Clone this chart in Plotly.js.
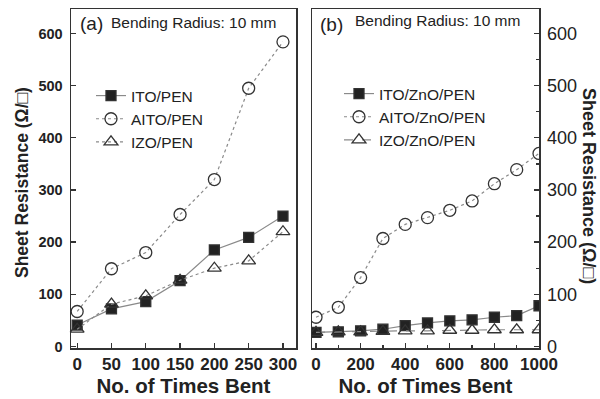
<!DOCTYPE html>
<html><head><meta charset="utf-8">
<script src="https://cdn.plot.ly/plotly-3.0.1.min.js"></script>
<style>body{margin:0;background:#fff}#chart{width:600px;height:399px}</style>
</head><body><div id="chart"></div>
<script>
const xA = [0, 50, 100, 150, 200, 250, 300];
const itoPEN = [41, 72, 86, 126, 185, 209, 250];
const aitoPEN = [67, 149, 180, 253, 320, 495, 584];
const izoPEN = [33, 81, 97, 127, 150, 164, 220];

const xB = [0, 100, 200, 300, 400, 500, 600, 700, 800, 900, 1000];
const itoZnO = [27, 28, 30, 33, 40, 45, 49, 51, 56, 59, 78];
const aitoZnO = [56, 75, 132, 207, 234, 247, 261, 279, 312, 339, 370];
const izoZnO = [27, 28, 28, 29, 30, 30, 31, 31, 32, 32, 32];

const F = "Liberation Sans, Arial, sans-serif";
const lineCol = "#8a8a8a";
const mk = "#333";

function tr(x, y, name, sym, dash, xa, ya, leg) {
  const filled = sym === "square";
  return {
    x: x, y: y, name: name, type: "scatter", mode: "lines+markers",
    xaxis: xa, yaxis: ya, legend: leg, cliponaxis: false,
    line: {color: lineCol, width: 1.2, dash: dash},
    marker: {symbol: filled ? "square" : sym + "-open", size: filled ? 10 : 12,
      color: filled ? "#222" : mk, line: {color: mk, width: 1.3}}
  };
}

const data = [
  tr(xA, itoPEN, "ITO/PEN", "square", "solid", "x", "y", "legend"),
  tr(xA, aitoPEN, "AITO/PEN", "circle", "dot", "x", "y", "legend"),
  tr(xA, izoPEN, "IZO/PEN", "triangle-up", "dot", "x", "y", "legend"),
  tr(xB, itoZnO, "ITO/ZnO/PEN", "square", "solid", "x2", "y2", "legend2"),
  tr(xB, aitoZnO, "AITO/ZnO/PEN", "circle", "dot", "x2", "y2", "legend2"),
  tr(xB, izoZnO, "IZO/ZnO/PEN", "triangle-up", "dash", "x2", "y2", "legend2")
];
data[3].cliponaxis = true;
data[4].cliponaxis = true;
data[5].cliponaxis = true;

const axBase = {showline: true, linecolor: "#333", linewidth: 1.5, mirror: true,
  ticks: "inside", ticklen: 5, tickwidth: 1.3, tickcolor: "#333",
  showgrid: false, zeroline: false};

const yd = [51/399, 390/399];
const xTitle = {text: "No. of Times Bent", font: {size: 20.5, weight: "bold", family: F}, standoff: 2};

const layout = {
  width: 600, height: 399, paper_bgcolor: "#fff", plot_bgcolor: "#fff",
  margin: {l: 0, r: 0, t: 0, b: 0},
  font: {family: F, color: "#222"},
  xaxis: Object.assign({}, axBase, {domain: [71/600, 296/600], range: [-9, 319],
    tickvals: xA, anchor: "y",
    tickfont: {size: 17, weight: "bold", family: F},
    title: xTitle}),
  yaxis: Object.assign({}, axBase, {domain: yd, range: [-3, 647], dtick: 100, anchor: "x",
    tickfont: {size: 14.5, weight: "bold", family: F}, ticklabelstandoff: 4}),
  xaxis2: Object.assign({}, axBase, {domain: [312/600, 539/600], range: [-18, 1000],
    dtick: 200, anchor: "y2",
    minor: {ticks: "inside", dtick: 100, ticklen: 3, tickcolor: "#333"},
    tickfont: {size: 17, weight: "bold", family: F},
    title: xTitle}),
  yaxis2: Object.assign({}, axBase, {domain: yd, range: [-3, 647], dtick: 100, anchor: "x2",
    side: "right",
    minor: {ticks: "inside", dtick: 50, ticklen: 3, tickcolor: "#333"},
    tickfont: {size: 18, family: F}, ticklabelstandoff: 3}),
  legend: {x: 91/600, y: 1 - 79/399, xanchor: "left", yanchor: "top",
    bgcolor: "rgba(0,0,0,0)", font: {size: 15.5, family: F}, tracegroupgap: 0, itemwidth: 30},
  legend2: {x: 339/600, y: 1 - 77/399, xanchor: "left", yanchor: "top",
    bgcolor: "rgba(0,0,0,0)", font: {size: 15.5, family: F}, tracegroupgap: 0, itemwidth: 30},
  showlegend: true,
  annotations: [
    {text: "(a)", x: 78/600, y: 1 - 23/399, xref: "paper", yref: "paper", xanchor: "left",
      yanchor: "middle", showarrow: false, font: {size: 19, family: F}},
    {text: "Bending Radius: 10 mm", x: 109/600, y: 1 - 22/399, xref: "paper", yref: "paper",
      xanchor: "left", yanchor: "middle", showarrow: false, font: {size: 15.5, family: F}},
    {text: "(b)", x: 318/600, y: 1 - 25/399, xref: "paper", yref: "paper", xanchor: "left",
      yanchor: "middle", showarrow: false, font: {size: 19, family: F}},
    {text: "Bending Radius: 10 mm", x: 353/600, y: 1 - 21/399, xref: "paper", yref: "paper",
      xanchor: "left", yanchor: "middle", showarrow: false, font: {size: 15.5, family: F}},
    {text: "<b>Sheet Resistance (Ω/□)</b>", x: 22/600, y: 1 - 183/399, xref: "paper", yref: "paper",
      xanchor: "center", yanchor: "middle", textangle: -90, showarrow: false, font: {size: 17.5, family: F}},
    {text: "<b>Sheet Resistance (Ω/□)</b>", x: 589/600, y: 1 - 186/399, xref: "paper", yref: "paper",
      xanchor: "center", yanchor: "middle", textangle: 90, showarrow: false, font: {size: 18, family: F}}
  ]
};

Plotly.newPlot("chart", data, layout, {staticPlot: true, displayModeBar: false});
</script></body></html>
